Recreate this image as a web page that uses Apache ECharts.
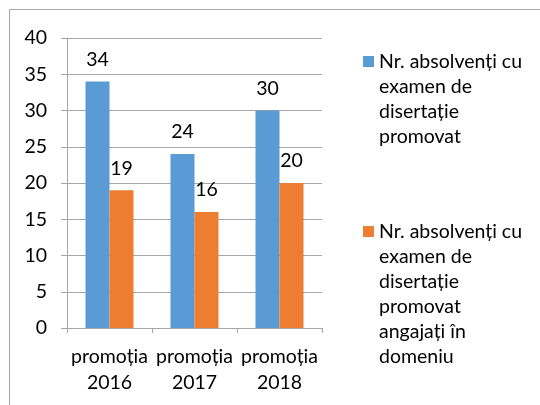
<!DOCTYPE html>
<html>
<head>
<meta charset="utf-8">
<script src="https://cdn.jsdelivr.net/npm/echarts@6/dist/echarts.min.js"></script>
<style>
    html, body { margin: 0; padding: 0; background: #fff; }
    #chart { width: 540px; height: 405px; }
</style>
</head>
<body>
<div id="chart"></div>
<script>
    var categories = ['promoția\n2016', 'promoția\n2017', 'promoția\n2018'];
    var promovat = [34, 24, 30];
    var angajati = [19, 16, 20];
    var seriesNames = [
        'Nr. absolvenți cu\nexamen de\ndisertație\npromovat',
        'Nr. absolvenți cu\nexamen de\ndisertație\npromovat\nangajați în\ndomeniu'
    ];

    var font = 'Lato';
    var fs = 19.5;

    var chartDom = document.getElementById('chart');
    var myChart = echarts.init(chartDom);
    var option;

    // square sits on the first text line, the rest of the icon box is empty
    function legendIcon(lines) {
        var h = lines * 25;
        return 'path://M0,0L0,0M0,7L11,7L11,18L0,18ZM0,' + h + 'L0,' + h;
    }

    option = {
        animation: false,
        color: ['#5B9BD5', '#ED7D31'],
        textStyle: { fontFamily: font },
        graphic: [{
            type: 'rect',
            shape: { x: 9.5, y: 9.5, width: 700, height: 600 },
            style: { fill: null, stroke: '#a6a6a6', lineWidth: 1 },
            silent: true
        }],
        legend: [{
            left: 363,
            top: 49,
            padding: 0,
            data: [{ name: seriesNames[0], icon: legendIcon(4) }],
            itemWidth: 11,
            itemHeight: 100,
            textStyle: { fontFamily: font, fontSize: fs, color: '#000', lineHeight: 25 }
        }, {
            left: 363,
            top: 219,
            padding: 0,
            data: [{ name: seriesNames[1], icon: legendIcon(6) }],
            itemWidth: 11,
            itemHeight: 150,
            textStyle: { fontFamily: font, fontSize: fs, color: '#000', lineHeight: 25 }
        }],
        grid: { left: 67, right: 218, top: 38, bottom: 77 },
        xAxis: {
            type: 'category',
            data: categories,
            axisLine: { lineStyle: { color: '#a6a6a6' } },
            axisTick: { show: true, length: 5, lineStyle: { color: '#a6a6a6' } },
            axisLabel: {
                fontFamily: font, fontSize: fs, color: '#000',
                lineHeight: 26, margin: 16, interval: 0
            }
        },
        yAxis: {
            type: 'value',
            min: 0,
            max: 40,
            interval: 5,
            axisLine: { show: true, lineStyle: { color: '#a6a6a6' } },
            axisTick: { show: true, length: 6, lineStyle: { color: '#a6a6a6' } },
            axisLabel: { fontFamily: font, fontSize: fs, color: '#000', margin: 20 },
            splitLine: { lineStyle: { color: '#a6a6a6' } }
        },
        series: [{
            name: seriesNames[0],
            type: 'bar',
            data: promovat,
            barWidth: 24,
            barGap: '0%',
            label: { show: true, position: 'top', distance: 12, fontFamily: font, fontSize: fs, color: '#000' }
        }, {
            name: seriesNames[1],
            type: 'bar',
            data: angajati,
            barWidth: 24,
            label: { show: true, position: 'top', distance: 12, fontFamily: font, fontSize: fs, color: '#000' }
        }]
    };

    option && myChart.setOption(option);
</script>
</body>
</html>
